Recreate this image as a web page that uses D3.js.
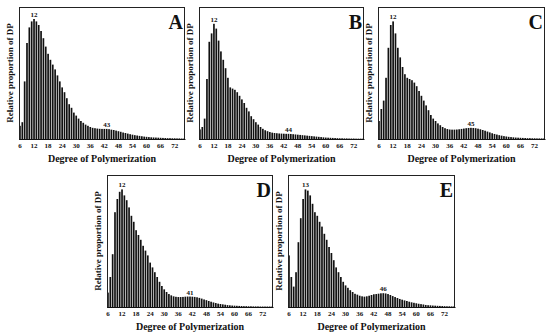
<!DOCTYPE html>
<html><head><meta charset="utf-8">
<script src="https://cdn.jsdelivr.net/npm/d3@7"></script>
<style>body{margin:0;background:#fff}svg{display:block}</style>
</head><body>
<svg id="chart" width="550" height="336"></svg>
<script>
// Degree of polymerization categories
const dp = d3.range(6, 77);
const tickLabels = [6, 12, 18, 24, 30, 36, 42, 48, 54, 60, 66, 72];
const panelNames = ["A", "B", "C", "D", "E"];
const peakLabels = [[12, 43], [12, 44], [12, 45], [12, 41], [13, 46]];

const seriesA = [11,14,48,80,93,98,100,98,95,90,84,77,71,66,62,58,53,48,43,39,34,29,26,22,19.5,17,15,13.5,12,11,10,9.3,9,8.7,8.5,8.4,8.4,8.4,8.2,7.8,7.5,7,6.5,6,5.4,5,4.5,4,3.6,3.2,2.9,2.6,2.3,2,1.8,1.6,1.4,1.3,1.2,1.1,1,0.9,0.8,0.7,0.7,0.6,0.6,0.5,0.5,0.4,0.4];
const seriesB = [8,10,17,50,81,88,96,92,82,73,66,59,51,43,42,41,39,36,33,30,26,23,19,16.5,14,12,10,8.5,7.3,6.5,5.8,5.3,5,4.8,4.6,4.5,4.4,4.3,4.3,4.2,4,3.8,3.6,3.4,3.2,3,2.8,2.6,2.4,2.2,2,1.8,1.6,1.4,1.2,1.1,1,0.9,0.8,0.7,0.6,0.6,0.5,0.5,0.4,0.4,0.4,0.3,0.3,0.3,0.3];
const seriesC = [15,25,32,51,76,95,98,88,76,68,60,54,51,50,49,47,44,40,36,32,28,24,20,17,15,13,11.5,10,9,8.3,7.9,7.8,7.8,7.9,8.1,8.4,8.7,9,9.2,9.3,9.2,9,8.6,8.1,7.5,6.9,6.2,5.5,4.8,4.2,3.7,3.2,2.8,2.4,2.1,1.8,1.6,1.4,1.2,1.1,1,0.9,0.8,0.7,0.7,0.6,0.6,0.5,0.5,0.5,0.5];
const seriesD = [12,25,44,79,90,96,98,93,89,83,76,71,64,60,56,51,47,43,37,33,29,25,21,17.5,14.7,12.5,10.8,9.7,8.9,8.5,8.3,8.3,8.4,8.6,8.7,8.7,8.6,8.4,8.1,7.6,7,6.3,5.7,5,4.4,3.8,3.3,2.8,2.5,2.2,1.9,1.6,1.4,1.2,1.1,1,0.9,0.8,0.7,0.7,0.6,0.6,0.5,0.5,0.5,0.4,0.4,0.4,0.4,0.4,0.4];
const seriesE = [43,25,17,29,54,74,90,98,97,93,86,79,76,71,67,61,56,50,45,39,33,29,25,21,18,16,14,12.5,11,10.3,9.4,8.9,8.6,8.9,9.4,10,10.6,10.8,11.1,11.4,11.5,11.3,10.8,10,9.1,8.3,7.5,6.7,6.1,5.5,5,4.4,3.9,3.5,3.1,2.7,2.4,2.1,1.7,1.5,1.4,1.2,1.1,1,0.9,0.8,0.7,0.6,0.6,0.5,0.5];
const allSeries = [seriesA, seriesB, seriesC, seriesD, seriesE];

const xTitle = "Degree of Polymerization";
const yTitle = "Relative proportion of DP";

// layout (frames of each panel)
const layout = [
  {x0: 19,  x1: 185, y0: 7,   y1: 139},
  {x0: 199, x1: 364, y0: 7,   y1: 139},
  {x0: 378, x1: 545, y0: 7,   y1: 139},
  {x0: 107, x1: 273, y0: 175, y1: 307},
  {x0: 288, x1: 455, y0: 175, y1: 307}
];

const svg = d3.select("#chart");
const font = "'Liberation Serif','Times New Roman',serif";

layout.forEach((L, i) => {
  const vals = allSeries[i];
  const data = dp.map((d, k) => ({dp: d, v: vals[k]}));
  const x = d3.scaleBand().domain(dp).range([L.x0, L.x1]).paddingInner(0.28).paddingOuter(0.05);
  const y = d3.scaleLinear().domain([0, 110]).range([L.y1, L.y0]);
  const g = svg.append("g");

  g.selectAll("rect.bar").data(data).enter().append("rect")
    .attr("class", "bar")
    .attr("x", d => x(d.dp))
    .attr("width", x.bandwidth())
    .attr("y", d => y(d.v))
    .attr("height", d => y(0) - y(d.v))
    .attr("fill", "#111");

  // frame
  g.append("rect")
    .attr("x", L.x0 + 0.5).attr("y", L.y0 + 0.5)
    .attr("width", L.x1 - L.x0 - 1).attr("height", L.y1 - L.y0)
    .attr("fill", "none").attr("stroke", "#222").attr("stroke-width", 1);

  // x axis (labels only)
  const ax = d3.axisBottom(x).tickValues(tickLabels).tickSize(0).tickPadding(4);
  const axg = g.append("g").attr("transform", `translate(0,${L.y1})`).call(ax);
  axg.select(".domain").attr("stroke", "#111");
  axg.selectAll("text").attr("font-family", font).attr("font-weight", "bold")
    .attr("font-size", 7).attr("fill", "#111");

  // titles
  g.append("text").attr("x", (L.x0 + L.x1) / 2).attr("y", L.y1 + 23)
    .attr("text-anchor", "middle").attr("font-family", font).attr("font-weight", "bold")
    .attr("font-size", 10).attr("fill", "#111").text(xTitle);
  g.append("text")
    .attr("transform", `translate(${L.x0 - 6.5},${(L.y0 + L.y1) / 2}) rotate(-90)`)
    .attr("text-anchor", "middle").attr("font-family", font).attr("font-weight", "bold")
    .attr("font-size", 9).attr("fill", "#111").text(yTitle);

  // panel letter
  g.append("text").attr("x", L.x1 - 2).attr("y", L.y0 + 22)
    .attr("text-anchor", "end").attr("font-family", font).attr("font-weight", "bold")
    .attr("font-size", 20).attr("fill", "#111").text(panelNames[i]);

  // peak labels
  peakLabels[i].forEach(p => {
    const v = vals[dp.indexOf(p)];
    g.append("text").attr("x", x(p) + x.bandwidth() / 2).attr("y", y(v) - 2)
      .attr("text-anchor", "middle").attr("font-family", font).attr("font-weight", "bold")
      .attr("font-size", 7).attr("fill", "#111").text(p);
  });
});
</script>
</body></html>
